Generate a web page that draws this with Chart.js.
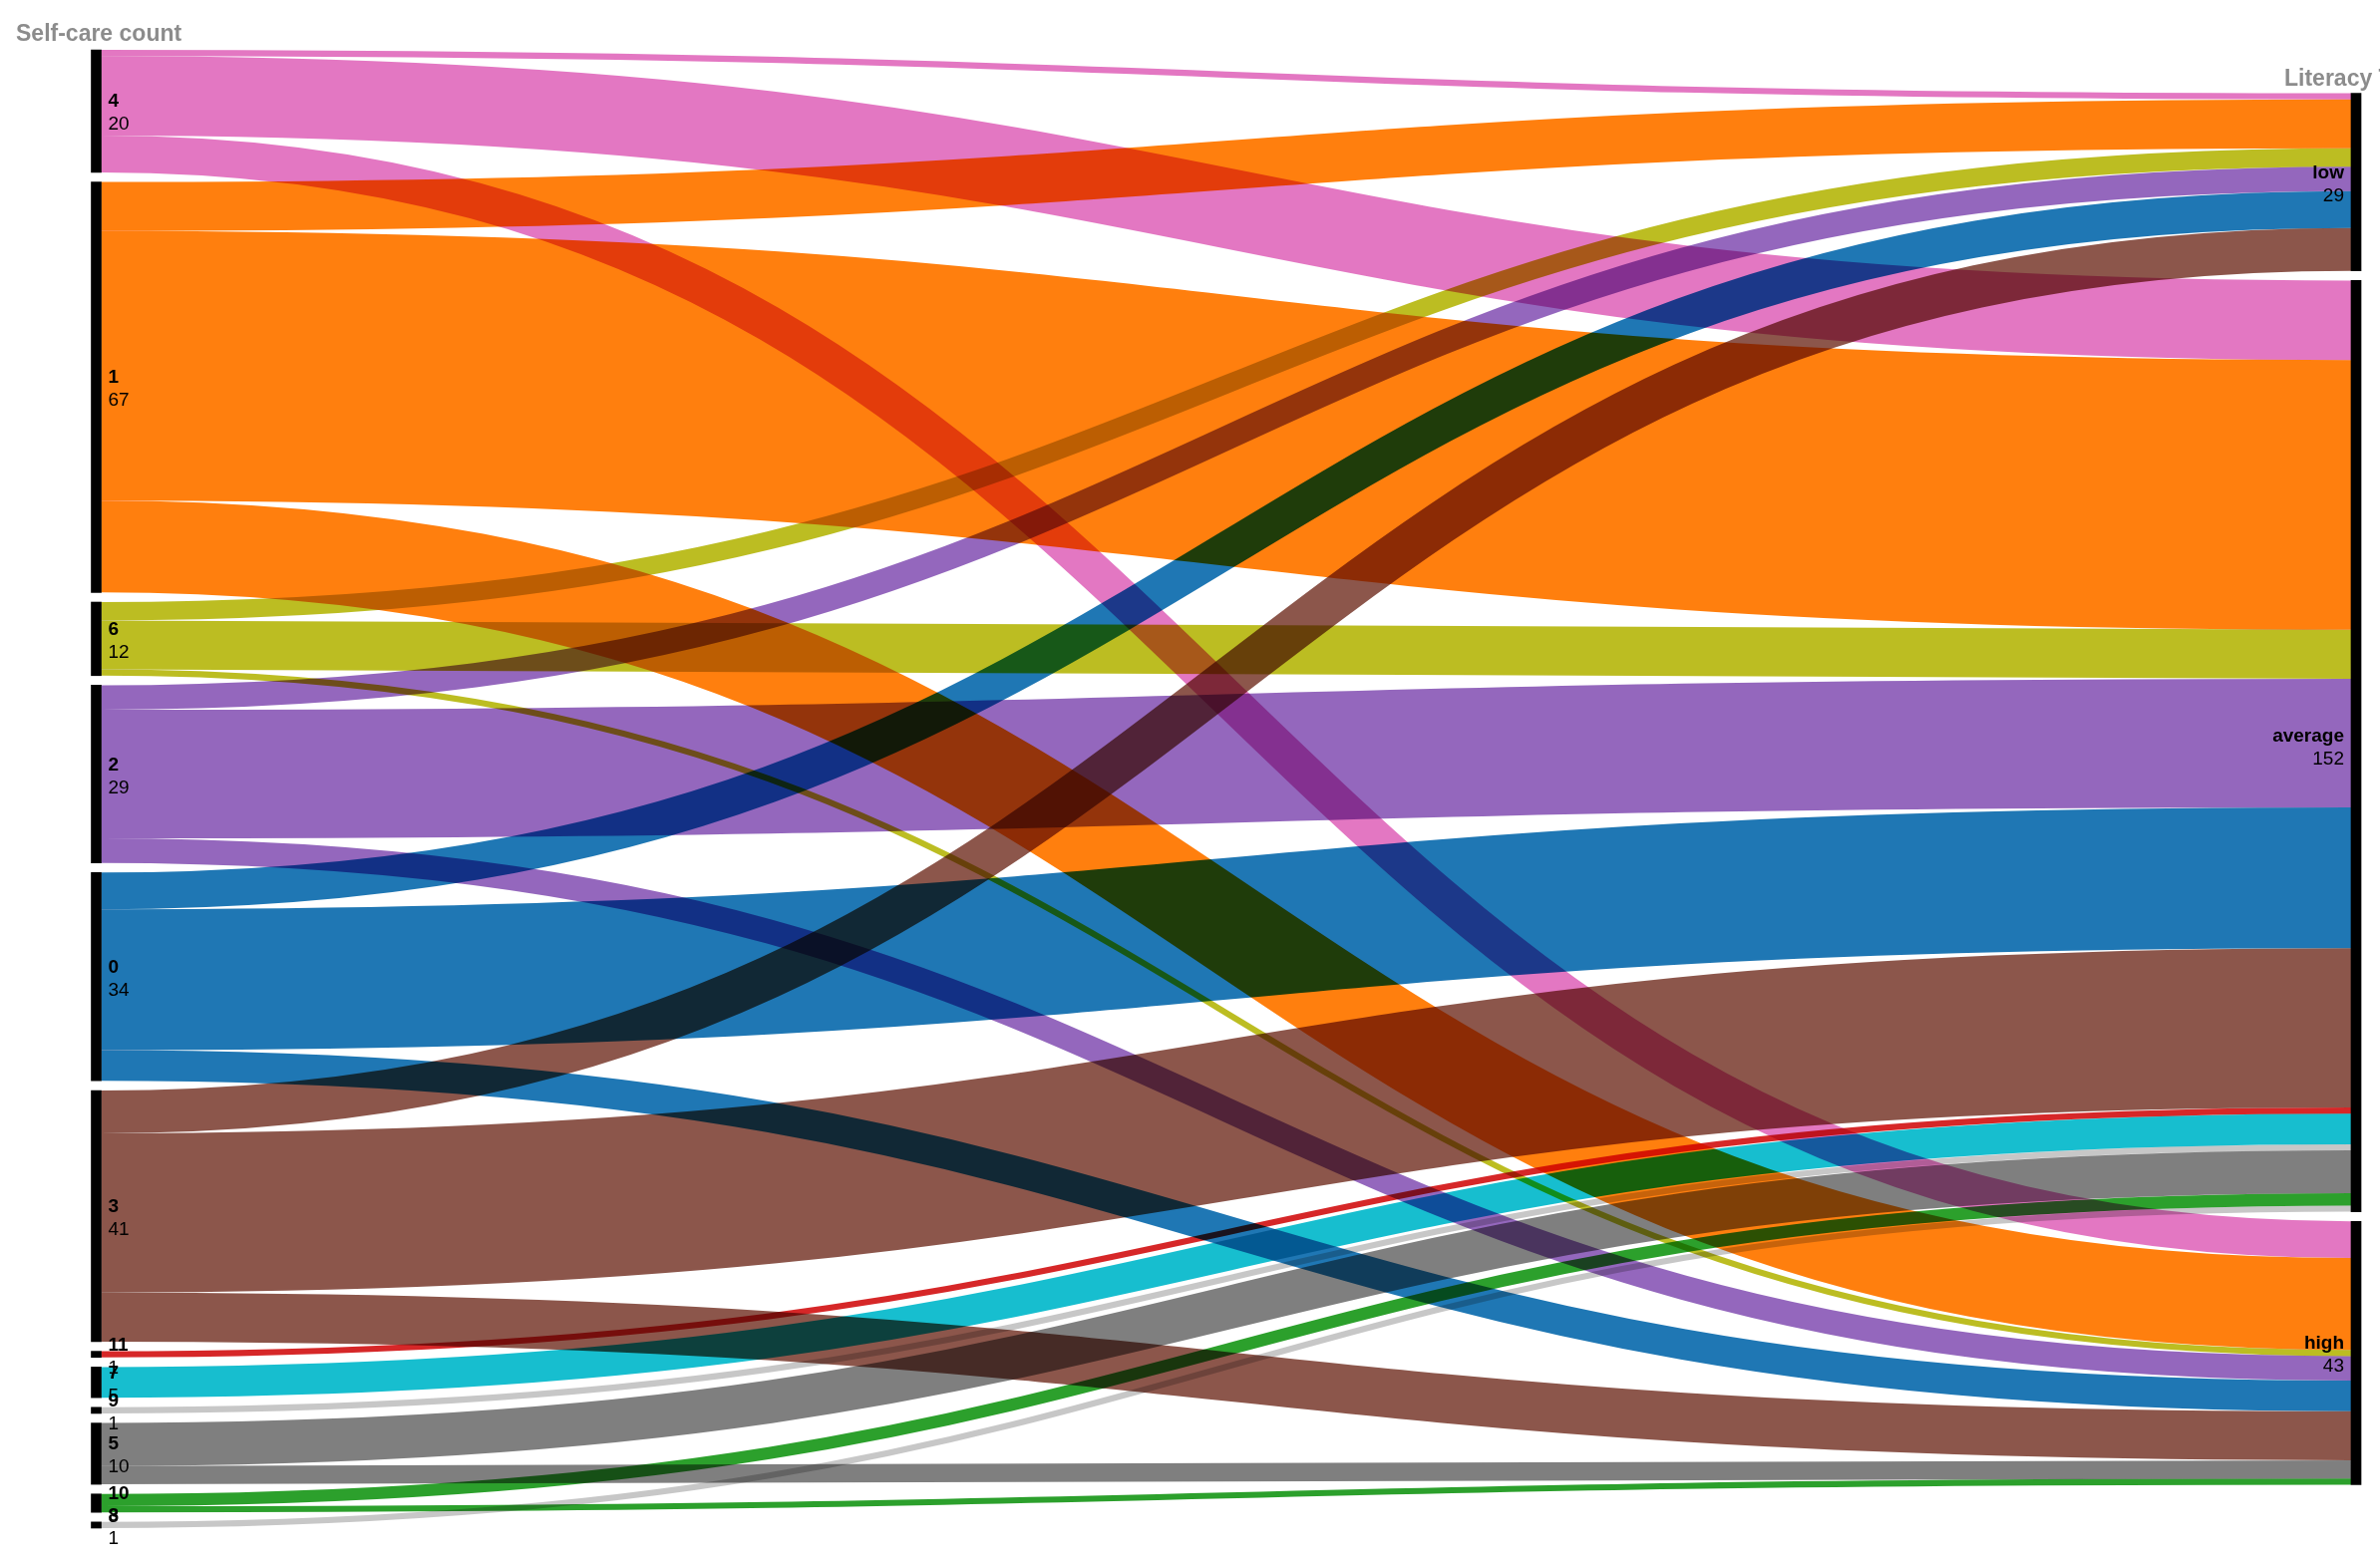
<!DOCTYPE html>
<html><head><meta charset="utf-8">
<script src="https://cdn.jsdelivr.net/npm/chart.js@4.4.1/dist/chart.umd.min.js"></script>
<style>html,body{margin:0;padding:0;background:#fff;overflow:hidden}canvas{display:block}</style>
</head><body>
<canvas id="c" width="2387" height="1566"></canvas>
<script>
const leftTitle = 'Self-care count';
const rightTitle = 'Literacy Tier';
const sources = ['4','1','6','2','0','3','11','7','9','5','10','8'];
const sourceColors = ['#e377c2','#ff7f0e','#bcbd22','#9467bd','#1f77b4','#8c564b','#d62728','#17becf','#c7c7c7','#7f7f7f','#2ca02c','#c7c7c7'];
const targets = ['low','average','high'];
const toLow     = [1, 8, 3, 4, 6, 7, 0, 0, 0, 0, 0, 0];
const toAverage = [13,44,8,21,23,26,1, 5, 1, 7, 2, 1];
const toHigh    = [6, 15,1, 4, 5, 8, 0, 0, 0, 3, 1, 0];

const flows = [toLow, toAverage, toHigh];
const GAP = 1.573; // node padding in value units
const sourceTotals = sources.map((s,i)=>flows.reduce((a,f)=>a+f[i],0));
const targetTotals = flows.map(f=>f.reduce((a,b)=>a+b,0));
const grand = sourceTotals.reduce((a,b)=>a+b,0);
const yMax = grand + (sources.length-1)*GAP;

const leftStart = []; let acc = 0;
sourceTotals.forEach(v=>{leftStart.push(acc); acc += v + GAP;});
const rightSpan = grand + (targets.length-1)*GAP;
const rightStart = []; acc = (yMax-rightSpan)/2;
targetTotals.forEach(v=>{rightStart.push(acc); acc += v + GAP;});

const links = [];
const srcOff = leftStart.slice();
for (let i=0;i<sources.length;i++){
  for (let t=0;t<targets.length;t++){
    const v = flows[t][i]; if (!v) continue;
    links.push({s:i, t:t, v:v, y0:srcOff[i]+v/2});
    srcOff[i] += v;
  }
}
const tgtOff = rightStart.slice();
for (let t=0;t<targets.length;t++){
  for (let i=0;i<sources.length;i++){
    const l = links.find(k=>k.s===i && k.t===t); if (!l) continue;
    l.y1 = tgtOff[t] + l.v/2; tgtOff[t] += l.v;
  }
}

const nodeData = sources.map((s,i)=>({x:0, y:[leftStart[i], leftStart[i]+sourceTotals[i]]}))
  .concat(targets.map((s,t)=>({x:1, y:[rightStart[t], rightStart[t]+targetTotals[t]]})));

const BAR = 10;
const FONT = 'Arial, "Liberation Sans", sans-serif';

const sankeyPlugin = {
  id: 'sankey',
  beforeDraw(chart){
    const ctx = chart.ctx;
    ctx.save(); ctx.fillStyle = '#fff'; ctx.fillRect(0,0,chart.width,chart.height); ctx.restore();
  },
  beforeDatasetsDraw(chart){
    const ctx = chart.ctx, xs = chart.scales.x, ys = chart.scales.y;
    const unit = Math.abs(ys.getPixelForValue(1) - ys.getPixelForValue(0));
    const x0 = xs.getPixelForValue(0) + BAR/2, x1 = xs.getPixelForValue(1) - BAR/2;
    const xm = (x0 + x1)/2;
    ctx.save();
    ctx.globalCompositeOperation = 'multiply';
    ctx.lineCap = 'butt';
    links.forEach(l=>{
      const a = ys.getPixelForValue(l.y0), b = ys.getPixelForValue(l.y1);
      ctx.beginPath();
      ctx.moveTo(x0, a);
      ctx.bezierCurveTo(xm, a, xm, b, x1, b);
      ctx.strokeStyle = sourceColors[l.s];
      ctx.lineWidth = l.v * unit;
      ctx.stroke();
    });
    ctx.restore();
  },
  afterDatasetsDraw(chart){
    const ctx = chart.ctx, xs = chart.scales.x, ys = chart.scales.y;
    ctx.save();
    ctx.fillStyle = '#000';
    ctx.textBaseline = 'alphabetic';
    const lx = xs.getPixelForValue(0) + BAR/2 + 7;
    const rx = xs.getPixelForValue(1) - BAR/2 - 7;
    sources.forEach((s,i)=>{
      const c = ys.getPixelForValue(leftStart[i] + sourceTotals[i]/2);
      ctx.textAlign = 'left';
      ctx.font = 'bold 19px ' + FONT; ctx.fillText(s, lx, c-4);
      ctx.font = '19px ' + FONT; ctx.fillText(String(sourceTotals[i]), lx, c+19);
    });
    targets.forEach((s,t)=>{
      const c = ys.getPixelForValue(rightStart[t] + targetTotals[t]/2);
      ctx.textAlign = 'right';
      ctx.font = 'bold 19px ' + FONT; ctx.fillText(s, rx, c-4);
      ctx.font = '19px ' + FONT; ctx.fillText(String(targetTotals[t]), rx, c+19);
    });
    ctx.fillStyle = '#8c8c8c';
    ctx.font = 'bold 23px ' + FONT;
    ctx.textAlign = 'left';
    ctx.fillText(leftTitle, 16, ys.getPixelForValue(leftStart[0]) - 9);
    ctx.fillText(rightTitle, 2291, ys.getPixelForValue(rightStart[0]) - 8);
    ctx.restore();
  }
};

new Chart(document.getElementById('c'), {
  type: 'bar',
  data: { datasets: [{ data: nodeData, backgroundColor: '#000', borderWidth: 0, barThickness: BAR, clip: false }] },
  options: {
    responsive: false, animation: false, devicePixelRatio: 1,
    layout: { padding: { left: 96.5, right: 24, top: 50, bottom: 33 } },
    scales: {
      x: { type: 'linear', min: 0, max: 1, display: false, offset: false },
      y: { type: 'linear', min: 0, max: yMax, reverse: true, display: false }
    },
    plugins: { legend: { display: false }, tooltip: { enabled: false } }
  },
  plugins: [sankeyPlugin]
});
</script>
</body></html>
